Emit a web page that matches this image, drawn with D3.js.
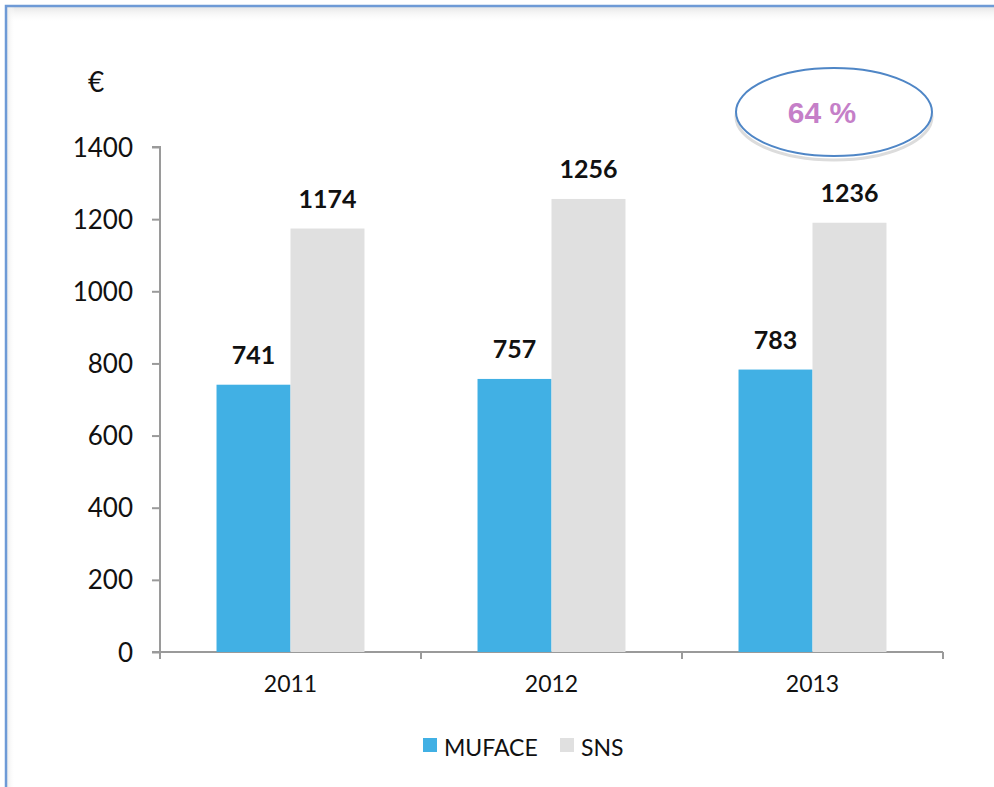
<!DOCTYPE html>
<html>
<head>
<meta charset="utf-8">
<script src="https://cdn.jsdelivr.net/npm/d3@7"></script>
<style>
  body { margin: 0; background: #fff; }
  svg { display: block; }
  svg text { font-family: Lato, "Open Sans", sans-serif; }
</style>
</head>
<body>
<div id="chart"></div>
<script>
const years = ["2011", "2012", "2013"];
const seriesNames = ["MUFACE", "SNS"];
const muface = [741, 757, 783];
const sns = [1174, 1256, 1190];
const mufaceLabels = ["741", "757", "783"];
const snsLabels = ["1174", "1256", "1236"];
const yTicks = [0, 200, 400, 600, 800, 1000, 1200, 1400];
const colors = ["#41b0e4", "#e0e0e0"];

const W = 994, H = 787;
const svg = d3.select("#chart").append("svg").attr("width", W).attr("height", H);

// frame with soft inner shadow
const defs = svg.append("defs");
const gTop = defs.append("linearGradient").attr("id", "shTop").attr("x1", 0).attr("y1", 0).attr("x2", 0).attr("y2", 1);
gTop.append("stop").attr("offset", 0).attr("stop-color", "#e6e6e6");
gTop.append("stop").attr("offset", 1).attr("stop-color", "#fff").attr("stop-opacity", 0);
const gLeft = defs.append("linearGradient").attr("id", "shLeft").attr("x1", 0).attr("y1", 0).attr("x2", 1).attr("y2", 0);
gLeft.append("stop").attr("offset", 0).attr("stop-color", "#ececec");
gLeft.append("stop").attr("offset", 1).attr("stop-color", "#fff").attr("stop-opacity", 0);
svg.append("rect").attr("x", 7).attr("y", 7).attr("width", W).attr("height", 16).attr("fill", "url(#shTop)");
svg.append("rect").attr("x", 7).attr("y", 7).attr("width", 8).attr("height", H).attr("fill", "url(#shLeft)");
svg.append("path").attr("d", `M6,${H} V6 H${W}`).attr("fill", "none")
  .attr("stroke", "#6e9ad6").attr("stroke-width", 2.5);

const x0 = 160, x1 = 943, yTop = 147, yBot = 652;
const x = d3.scaleBand().domain(years).range([x0, x1]).paddingInner(0).paddingOuter(0);
const xs = d3.scaleBand().domain(seriesNames).range([0, x.bandwidth()]).paddingInner(0).paddingOuter(0.764);
const y = d3.scaleLinear().domain([0, 1400]).range([yBot, yTop]);

// y axis
const yAxis = svg.append("g").attr("transform", `translate(${x0},0)`)
  .call(d3.axisLeft(y).tickValues(yTicks).tickFormat(d3.format("d")).tickSize(8).tickPadding(19));
yAxis.selectAll("text").attr("font-size", 26).attr("fill", "#111").attr("dy", "0.35em");
// x axis
const xAxis = svg.append("g").attr("transform", `translate(0,${yBot})`)
  .call(d3.axisBottom(x).tickSize(0).tickPadding(24));
xAxis.selectAll("text").attr("font-size", 23).attr("fill", "#111");
xAxis.selectAll(".bnd").data(d3.range(years.length + 1)).enter().append("line")
  .attr("x1", i => x0 + i * x.bandwidth()).attr("x2", i => x0 + i * x.bandwidth())
  .attr("y1", 0).attr("y2", 7);
svg.selectAll(".domain, .tick line, g line").attr("stroke", "#9a9a9a").attr("stroke-width", 2);
yAxis.select(".domain").attr("d", `M-8,${yTop}H0V${yBot}`);
xAxis.select(".domain").attr("d", `M${x0 - 8},0H${x1}`);

// bars
const series = [muface, sns];
const labels = [mufaceLabels, snsLabels];
series.forEach((vals, s) => {
  svg.append("g").selectAll("rect").data(vals).enter().append("rect")
    .attr("x", (d, i) => x(years[i]) + xs(seriesNames[s]))
    .attr("y", d => y(d))
    .attr("width", xs.bandwidth())
    .attr("height", d => yBot - y(d))
    .attr("fill", colors[s]);
  svg.append("g").selectAll("text").data(vals).enter().append("text")
    .attr("x", (d, i) => x(years[i]) + xs(seriesNames[s]) + xs.bandwidth() / 2)
    .attr("y", d => y(d) - 21)
    .attr("text-anchor", "middle")
    .attr("font-size", 25).attr("font-weight", "bold").attr("fill", "#111")
    .text((d, i) => labels[s][i]);
});

// euro sign
svg.append("text").attr("x", 96).attr("y", 92).attr("text-anchor", "middle")
  .attr("font-size", 28).attr("fill", "#111").text("€");

// ellipse callout
svg.append("ellipse").attr("cx", 834).attr("cy", 117).attr("rx", 98).attr("ry", 43)
  .attr("fill", "none").attr("stroke", "#dcdcdc").attr("stroke-width", 3);
svg.append("ellipse").attr("cx", 834).attr("cy", 112).attr("rx", 98).attr("ry", 44)
  .attr("fill", "#fff").attr("stroke", "#4f86c6").attr("stroke-width", 2);
svg.append("text").attr("x", 822).attr("y", 123).attr("text-anchor", "middle")
  .style("font-family", "'Liberation Sans', Arial, sans-serif")
  .attr("font-size", 30).attr("font-weight", "bold").attr("fill", "#c57fc8").text("64 %");

// legend
const legX = [423, 560];
seriesNames.forEach((n, i) => {
  svg.append("rect").attr("x", legX[i]).attr("y", 738).attr("width", 14).attr("height", 14).attr("fill", colors[i]);
  svg.append("text").attr("x", legX[i] + 21).attr("y", 756).attr("font-size", 23).attr("fill", "#111").text(n);
});
</script>
</body>
</html>
